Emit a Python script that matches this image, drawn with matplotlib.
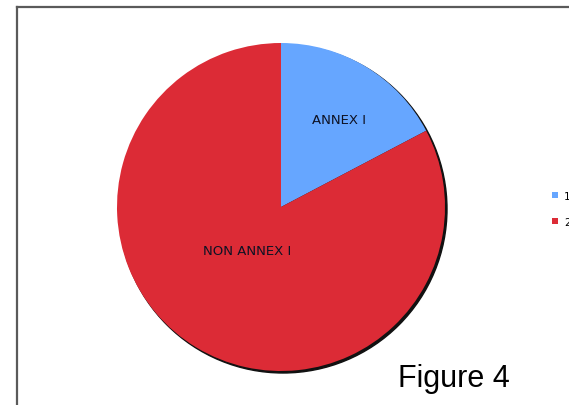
import matplotlib
matplotlib.use('Agg')
import matplotlib.pyplot as plt
from matplotlib.patches import Circle
from matplotlib.lines import Line2D

#### Data ####
labels = ['ANNEX I', 'NON ANNEX I']
shares = [17.3, 82.7]
legend_labels = ['1', '2']
colors = ['#66A6FF', '#DC2B36']
#### Data ####

W, H = 569, 406
fig = plt.figure(figsize=(W / 100, H / 100), dpi=100)
ax = fig.add_axes([0, 0, 1, 1])

# Rahmen (nur oben und links sichtbar, Rest abgeschnitten)
fig.add_artist(Line2D([17 / W, 1.0], [1 - 8 / H, 1 - 8 / H], color='#5a5a5a', lw=1.6))
fig.add_artist(Line2D([17 / W, 17 / W], [1 - 8 / H, 0.0], color='#5a5a5a', lw=1.6))

cx, cy, r = 281, H - 208, 164

# Schatten
ax.add_patch(Circle((cx + 2, cy - 2), r, color='#111111', zorder=1))

wedges, texts = ax.pie(shares, colors=colors, startangle=90, counterclock=False,
                       center=(cx, cy), radius=r, frame=True,
                       wedgeprops=dict(linewidth=0, zorder=2))
ax.set_xlim(0, W)
ax.set_ylim(0, H)
ax.set_aspect('equal')
ax.axis('off')

ax.text(339, H - 120, labels[0], ha='center', va='center', fontsize=9.5,
        color='#0e1224', zorder=3)
ax.text(247, H - 252, labels[1], ha='center', va='center', fontsize=9.5,
        color='#0e1224', zorder=3)

leg = ax.legend(wedges, legend_labels, loc='upper left',
                bbox_to_anchor=(552 / W, 1 - 192 / H), frameon=False,
                fontsize=7.5, handlelength=0.55, handleheight=0.55,
                handletextpad=0.6, labelspacing=1.5, borderpad=0, borderaxespad=0)

fig.text(398 / W, 1 - 387 / H, 'Figure 4', fontsize=22, family='Liberation Sans',
         ha='left', va='baseline', color='black')

plt.savefig('out.png', dpi=100)
plt.close()
